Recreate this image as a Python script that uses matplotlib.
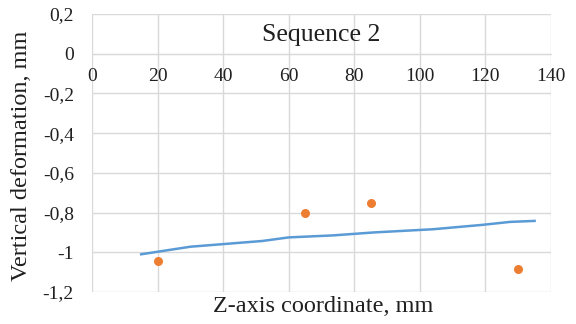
import matplotlib.pyplot as plt
from matplotlib.ticker import FuncFormatter, MultipleLocator

# Data
line_x = [15, 30, 52, 60, 73.5, 86, 104, 119, 127.5, 135]
line_y = [-1.01, -0.972, -0.943, -0.925, -0.915, -0.90, -0.884, -0.862, -0.847, -0.842]
pts_x = [20, 65, 85, 130]
pts_y = [-1.044, -0.80, -0.75, -1.086]

plt.rcParams['font.family'] = ['Liberation Serif', 'DejaVu Serif']

fig = plt.figure(figsize=(5.76, 3.24), dpi=100)
ax = fig.add_axes([92/576, 1 - 292/324, (551-92)/576, (292-14)/324])

ax.plot(line_x, line_y, color='#5B9BD5', linewidth=1.8, zorder=3)
ax.scatter(pts_x, pts_y, color='#ED7D31', s=42, zorder=4, linewidths=0)

ax.set_xlim(0, 140)
ax.set_ylim(-1.2, 0.2)
ax.xaxis.set_major_locator(MultipleLocator(20))
ax.yaxis.set_major_locator(MultipleLocator(0.2))

def comma(v, pos):
    s = '%g' % round(v, 1)
    return s.replace('.', ',')

ax.xaxis.set_major_formatter(FuncFormatter(comma))
ax.yaxis.set_major_formatter(FuncFormatter(comma))

ax.grid(True, color='#D9D9D9', linewidth=1)
ax.set_axisbelow(True)
for s in ['top', 'right', 'left']:
    ax.spines[s].set_visible(False)
ax.spines['bottom'].set_position(('data', 0))
ax.spines['bottom'].set_color('#D9D9D9')
ax.tick_params(length=0, labelsize=14, colors='#404040', labelcolor='#202020')
ax.tick_params(axis='x', pad=10)
ax.tick_params(axis='y', pad=13)

ax.text(0.5, 0.925, 'Sequence 2', transform=ax.transAxes, ha='center', va='center',
        fontsize=18.5, color='#202020')

fig.text(22/576, 1 - 156/324, 'Vertical deformation, mm', rotation=90,
         ha='center', va='center', fontsize=17.5, color='#202020')
fig.text(323/576, 1 - 306/324, 'Z-axis coordinate, mm', ha='center', va='center',
         fontsize=17.5, color='#202020')

fig.savefig('out.png', dpi=100)
